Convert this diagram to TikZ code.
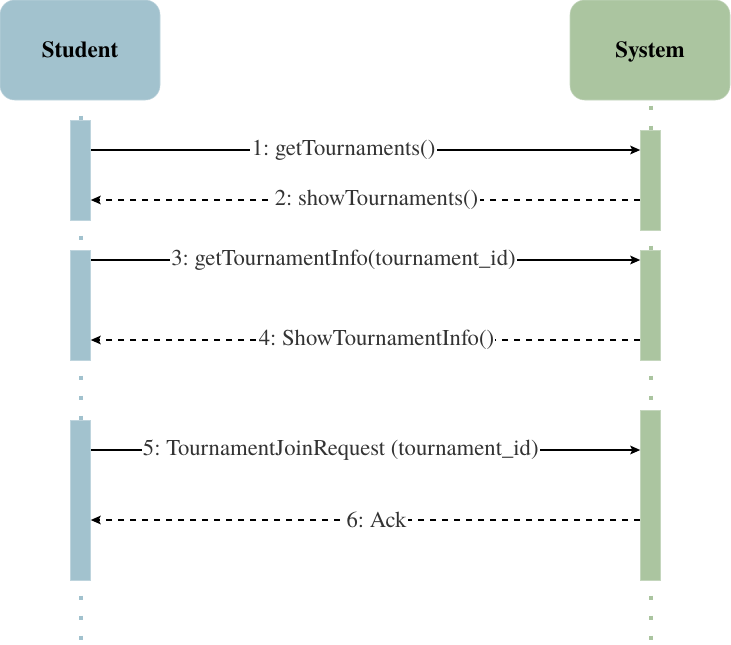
\documentclass[tikz,border=0pt]{standalone}
\usepackage{fontspec}
\setmainfont{texgyretermes}[Extension=.otf, UprightFont=*-regular, BoldFont=*-bold]
\usetikzlibrary{arrows.meta}
\definecolor{stud}{HTML}{A2C2CE}
\definecolor{sys}{HTML}{ABC5A0}
\frenchspacing
\tikzset{
	head/.style={rounded corners=11pt, minimum width=120pt, minimum height=75pt, inner sep=0pt, text height=11.6pt, text depth=0pt, font=\bfseries\fontsize{17.2}{20}\selectfont},
	bar/.style={minimum width=15pt, inner sep=0pt},
	life/.style={line width=3pt, dash pattern=on 3pt off 12pt},
	msg/.style={line width=1.1pt, -{Stealth[length=7.5pt,width=6.5pt,inset=1.5pt]}},
	ret/.style={msg, dash pattern=on 5pt off 4pt},
	lbl/.style={fill=white, inner sep=1pt, text=black!80, font=\fontsize{17}{20}\selectfont}
}
\begin{document}
\begin{tikzpicture}[x=0.75pt,y=-0.75pt]
		\useasboundingbox (0,0) rectangle (731,644);
		\node[head, fill=stud, draw=stud!70!white] (student) at (80,50) {Student};
		\node[head, fill=sys, draw=sys!70!white] (system) at (650,50) {System};
		% lifelines
		\draw[life, stud, dash phase=3.2pt] (80.5,100) -- (80.5,640);
		\draw[life, sys, dash phase=10.7pt] (650.5,100) -- (650.5,250);
		\draw[life, sys, dash phase=3.2pt] (650.5,360) -- (650.5,640);
		% activations
		\node[bar, fill=stud, draw=stud!70!white, minimum height=75pt] (s1) at (80.5,170) {};
		\node[bar, fill=stud, draw=stud!70!white, minimum height=82.5pt] (s2) at (80.5,305) {};
		\node[bar, fill=stud, draw=stud!70!white, minimum height=120pt] (s3) at (80.5,500) {};
		\node[bar, fill=sys, draw=sys!70!white, minimum height=75pt] (t1) at (650.5,180) {};
		\node[bar, fill=sys, draw=sys!70!white, minimum height=82.5pt] (t2) at (650.5,305) {};
		\node[bar, fill=sys, draw=sys!70!white, minimum height=127.5pt] (t3) at (650.5,495) {};
		% messages
		\coordinate (m1) at (0,150);
		\coordinate (m2) at (0,200);
		\coordinate (m3) at (0,260);
		\coordinate (m4) at (0,340);
		\coordinate (m5) at (0,450);
		\coordinate (m6) at (0,520);
		\draw[msg] (s1.east |- m1) -- node[lbl, pos=.46] {1: getTournaments()} (t1.west |- m1);
		\draw[ret] (t1.west |- m2) -- node[lbl, pos=.48] {2: showTournaments()} (s1.east |- m2);
		\draw[msg] (s2.east |- m3) -- node[lbl, pos=.46] {3: getTournamentInfo(tournament\_id)} (t2.west |- m3);
		\draw[ret] (t2.west |- m4) -- node[lbl, pos=.48] {4: ShowTournamentInfo()} (s2.east |- m4);
		\draw[msg] (s3.east |- m5) -- node[lbl, pos=.455] {5: TournamentJoinRequest (tournament\_id)} (t3.west |- m5);
		\draw[ret] (t3.west |- m6) -- node[lbl, pos=.48] {6: Ack} (s3.east |- m6);
	\end{tikzpicture}
\end{document}
